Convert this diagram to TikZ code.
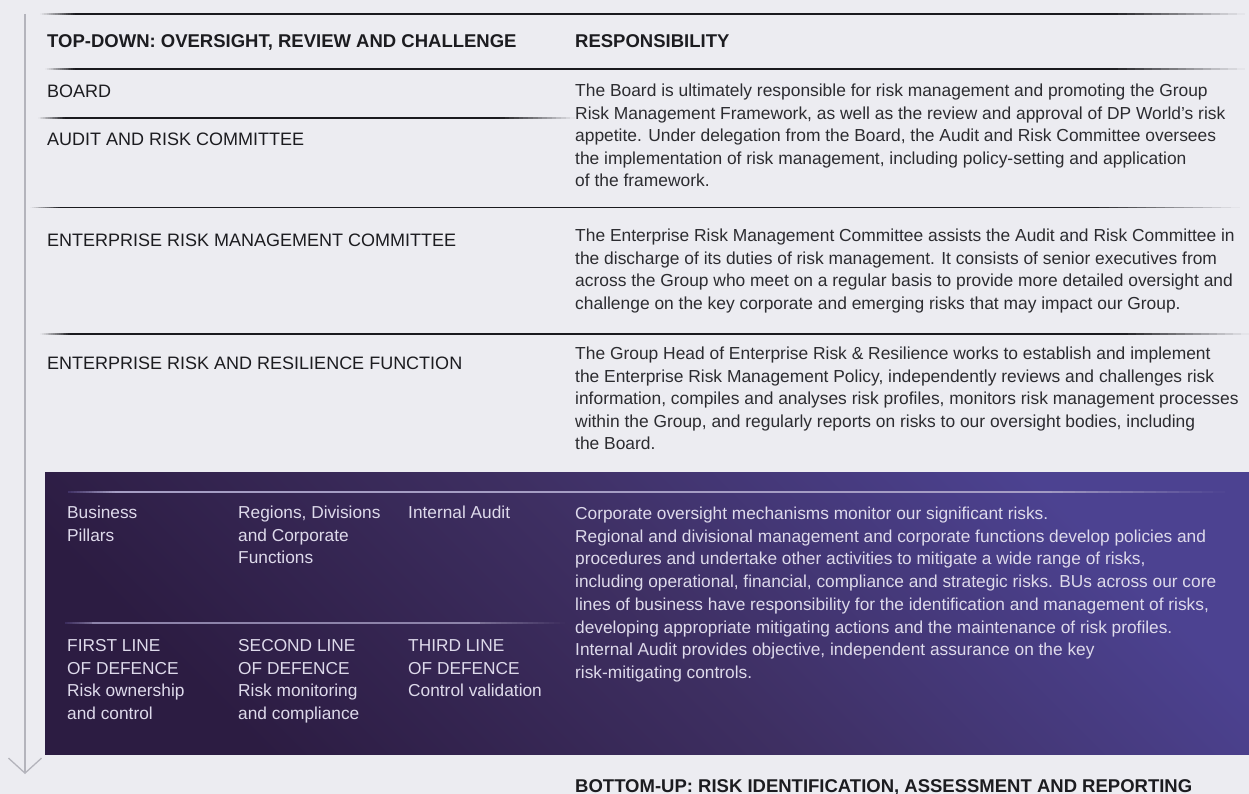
\documentclass[tikz,border=0pt]{standalone}
\usepackage{fontspec}
\setmainfont{Liberation Sans}
\usepackage{xcolor}
\usepackage{tikz}
\usetikzlibrary{arrows.meta}

\definecolor{paper}{HTML}{ECECF1}
\definecolor{ink}{HTML}{1C1C20}
\definecolor{bodyink}{HTML}{2C2C30}
\definecolor{rulegrey}{HTML}{1A1A1E}
\definecolor{flowgrey}{HTML}{B4B4BC}
\definecolor{panelDark}{HTML}{2C1C42}
\definecolor{panelMid}{HTML}{3E2F62}
\definecolor{panelLight}{HTML}{4C4291}
\definecolor{paneltext}{HTML}{DEDAEB}
\definecolor{panelrule}{HTML}{A59DC4}

% rule that fades in and out: colour, y, start, solid from, solid to, end,
% colour at the start, colour at the end
\newcommand{\fadeline}[8]{%
  \foreach \k in {0,...,15}{%
    \pgfmathsetmacro{\xa}{#3+(#4-#3)*\k/16}
    \pgfmathsetmacro{\xb}{#3+(#4-#3)*(\k+1)/16}
    \pgfmathsetmacro{\xc}{#5+(#6-#5)*\k/16}
    \pgfmathsetmacro{\xd}{#5+(#6-#5)*(\k+1)/16}
    \pgfmathtruncatemacro{\pct}{100*(\k+0.5)/16}
    \pgfmathtruncatemacro{\rpct}{100-\pct}
    \draw[#1!\pct!#7, line width=1.6pt] (\xa,#2) -- (\xb,#2);
    \draw[#1!\rpct!#8, line width=1.6pt] (\xc,#2) -- (\xd,#2);
  }
  \draw[#1, line width=1.6pt] (#4,#2) -- (#5,#2);
}

\begin{document}
\begin{tikzpicture}[x=1pt, y=-1pt,
  colhead/.style={anchor=base west, inner sep=0pt, text=ink,
    font=\fontsize{18.5}{22}\selectfont\bfseries},
  rowlabel/.style={anchor=base west, inner sep=0pt, align=left, text=ink,
    font=\fontsize{18}{22.6}\selectfont},
  body/.style={rowlabel, text=bodyink, font=\fontsize{17.4}{22.6}\selectfont},
  inpanel/.style={rowlabel, text=paneltext, font=\fontsize{17.3}{22.7}\selectfont}]

% === Page ===
\useasboundingbox (0,0) rectangle (1249,794);
\fill[paper] (0,0) rectangle (1249,794);

% === Parameters ===
\pgfmathsetmacro{\colL}{47}     % left column
\pgfmathsetmacro{\colR}{575}    % responsibility column
\pgfmathsetmacro{\lead}{22.6}   % line pitch (base anchor = last line)

% === Coordinates ===
\coordinate (flowTop) at (25,14);
\coordinate (flowEnd) at (25,774);

% === Rules ===
\fadeline{rulegrey}{14}{40}{75}{1110}{1245}{paper}{paper}
\fadeline{rulegrey}{69}{45}{75}{1110}{1245}{paper}{paper}
\fadeline{rulegrey}{118}{38}{65}{500}{575}{paper}{paper}
\fadeline{rulegrey}{207.5}{30}{60}{1090}{1240}{paper}{paper}
\fadeline{rulegrey}{334}{40}{70}{1120}{1249}{paper}{paper}

% === Top-down arrow ===
\draw[flowgrey, line width=1.3pt, -{Straight Barb[length=15pt, width=33pt]}]
  (flowTop) -- (flowEnd);

% === Headings ===
\node[colhead] (hdTopDown) at (\colL,48) {TOP-DOWN: OVERSIGHT, REVIEW AND CHALLENGE};
\node[colhead] (hdResp) at (\colR,48) {RESPONSIBILITY};

% === Oversight rows ===
\node[rowlabel] (board) at (\colL,97.5) {BOARD};
\node[rowlabel] (arc) at (\colL,145.5) {AUDIT AND RISK COMMITTEE};
\node[body] (boardTxt) at (\colR,{96.5+4*\lead}) {The Board is ultimately responsible for risk management and promoting the Group\\
Risk Management Framework, as well as the review and approval of DP World’s risk\\
appetite. Under delegation from the Board, the Audit and Risk Committee oversees\\
the implementation of risk management, including policy-setting and application\\
of the framework.};

\node[rowlabel] (ermc) at (\colL,246.5) {ENTERPRISE RISK MANAGEMENT COMMITTEE};
\node[body] (ermcTxt) at (\colR,{241.5+3*\lead}) {The Enterprise Risk Management Committee assists the Audit and Risk Committee in\\
the discharge of its duties of risk management. It consists of senior executives from\\
across the Group who meet on a regular basis to provide more detailed oversight and\\
challenge on the key corporate and emerging risks that may impact our Group.};

\node[rowlabel] (errf) at (\colL,369) {ENTERPRISE RISK AND RESILIENCE FUNCTION};
\node[body] (errfTxt) at (\colR,{359.5+4*\lead}) {The Group Head of Enterprise Risk \& Resilience works to establish and implement\\
the Enterprise Risk Management Policy, independently reviews and challenges risk\\
information, compiles and analyses risk profiles, monitors risk management processes\\
within the Group, and regularly reports on risks to our oversight bodies, including\\
the Board.};

% === Lines of defence panel ===
\shade[top color=panelLight, bottom color=panelDark, middle color=panelMid, shading angle=-45]
  (45,472) rectangle (1249,754);
\fadeline{panelrule}{492}{68}{115}{1040}{1225}{panelMid}{panelLight}
\fadeline{panelrule!80!panelDark}{623}{65}{92}{480}{565}{panelMid!80!panelDark}{panelMid!80!panelDark}

\node[inpanel] (pillars) at (67,{518.5+1*22.7}) {Business\\Pillars};
\node[inpanel] (regions) at (238,{518.5+2*22.7}) {Regions, Divisions\\and Corporate\\Functions};
\node[inpanel] (audit) at (408,518.5) {Internal Audit};

\node[inpanel] (firstLine) at (67,{651.5+3*22.7}) {FIRST LINE\\OF DEFENCE\\Risk ownership\\and control};
\node[inpanel] (secondLine) at (238,{651.5+3*22.7}) {SECOND LINE\\OF DEFENCE\\Risk monitoring\\and compliance};
\node[inpanel] (thirdLine) at (408,{651.5+2*22.7}) {THIRD LINE\\OF DEFENCE\\Control validation};

\node[inpanel] (panelTxt) at (\colR,{519.5+7*22.7}) {Corporate oversight mechanisms monitor our significant risks.\\
Regional and divisional management and corporate functions develop policies and\\
procedures and undertake other activities to mitigate a wide range of risks,\\
including operational, financial, compliance and strategic risks. BUs across our core\\
lines of business have responsibility for the identification and management of risks,\\
developing appropriate mitigating actions and the maintenance of risk profiles.\\
Internal Audit provides objective, independent assurance on the key\\
risk-mitigating controls.};

% === Bottom-up heading ===
\node[colhead] (hdBottomUp) at (\colR,792.5) {BOTTOM-UP: RISK IDENTIFICATION, ASSESSMENT AND REPORTING};

\end{tikzpicture}
\end{document}
